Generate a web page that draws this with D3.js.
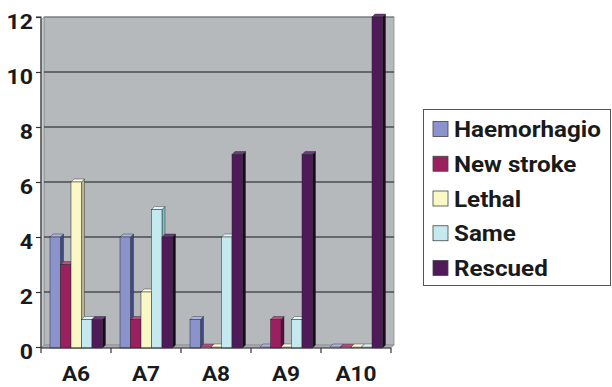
<!DOCTYPE html>
<html>
<head>
<meta charset="utf-8">
<script src="https://cdn.jsdelivr.net/npm/d3@7"></script>
<style>
  html, body { margin: 0; padding: 0; background: #fff; }
  svg { display: block; }
  text { font-family: Roboto, "Liberation Sans", Arial, sans-serif; font-weight: 700; fill: #1a1a1a; }
</style>
</head>
<body>
<svg id="chart" width="612" height="387"></svg>
<script>
const categories = ["A6", "A7", "A8", "A9", "A10"];
const seriesNames = ["Haemorhagio", "New stroke", "Lethal", "Same", "Rescued"];
const haemorhagio = [4, 4, 1, 0, 0];
const newStroke   = [3, 1, 0, 1, 0];
const lethal      = [6, 2, 0, 0, 0];
const same        = [1, 5, 4, 1, 0];
const rescued     = [1, 4, 7, 7, 12];
const yTicks = [0, 2, 4, 6, 8, 10, 12];

const seriesValues = [haemorhagio, newStroke, lethal, same, rescued];
const frontColors = ["#8a93cb", "#9a2060", "#fbf8c8", "#c4e9ef", "#4e1a5a"];
const sideColors  = ["#3a4a8c", "#5c0f38", "#b9b58c", "#7fbcc2", "#1a0820"];
const topColors   = ["#aeb4e0", "#b5507f", "#fdfbe0", "#e2f6f8", "#6e3a7a"];

const FONT = "Roboto, 'Liberation Sans', Arial, sans-serif";
const svg = d3.select("#chart");
const depth = 3;

const x = d3.scaleBand().domain(categories).range([41, 391]);
const xs = d3.scaleBand().domain(seriesNames).range([9, 61.5]);
const y = d3.scaleLinear().domain([0, 12]).range([347, 17]);

// back wall
svg.append("rect")
  .attr("x", 41 + depth).attr("y", y(12))
  .attr("width", 391 - 41).attr("height", y(0) - y(12) - depth + 1)
  .attr("fill", "#b5b9bc").attr("stroke", "#8a8d90").attr("stroke-width", 0.8);
// left side wall
svg.append("path")
  .attr("d", `M41,${y(12)+depth} L${41+depth},${y(12)} L${41+depth},${y(0)-depth+1} L41,${y(0)+1} Z`)
  .attr("fill", "#c9cccf").attr("stroke", "#8a8d90").attr("stroke-width", 0.6);
// floor
svg.append("path")
  .attr("d", `M41,${y(0)+1} L${41+depth},${y(0)-depth+1} L${391+depth},${y(0)-depth+1} L391,${y(0)+1} Z`)
  .attr("fill", "#a7abae").attr("stroke", "#8a8d90").attr("stroke-width", 0.6);

// gridlines on the wall
svg.append("g").selectAll("line")
  .data(yTicks.filter(t => t > 0 && t < 12))
  .join("line")
  .attr("x1", 41 + depth).attr("x2", 391 + depth)
  .attr("y1", d => y(d)).attr("y2", d => y(d))
  .attr("stroke", "#4a4d50").attr("stroke-width", 1.3);
svg.append("line")
  .attr("x1", 41 + depth).attr("x2", 391 + depth)
  .attr("y1", y(12)).attr("y2", y(12))
  .attr("stroke", "#6a6d70").attr("stroke-width", 1);

// bars
const bars = [];
categories.forEach((c, i) => {
  seriesNames.forEach((s, j) => {
    bars.push({ c, s, j, v: seriesValues[j][i] });
  });
});
const bg = svg.append("g");
bars.forEach(b => {
  const x0 = x(b.c) + xs(b.s);
  const w = xs.bandwidth();
  const yt = y(b.v);
  const yb = y(0) + 1;
  const g = bg.append("g");
  g.append("path")
    .attr("d", `M${x0+w},${yt} L${x0+w+depth},${yt-depth} L${x0+w+depth},${yb-depth} L${x0+w},${yb} Z`)
    .attr("fill", sideColors[b.j]).attr("stroke", "#222").attr("stroke-width", 0.4);
  g.append("path")
    .attr("d", `M${x0},${yt} L${x0+depth},${yt-depth} L${x0+w+depth},${yt-depth} L${x0+w},${yt} Z`)
    .attr("fill", topColors[b.j]).attr("stroke", "#222").attr("stroke-width", 0.4);
  if (b.v > 0) {
    g.append("rect")
      .attr("x", x0).attr("y", yt).attr("width", w).attr("height", yb - yt)
      .attr("fill", frontColors[b.j]).attr("stroke", "#2a2a2a").attr("stroke-width", 0.5);
  }
});

// axes
const yAxis = d3.axisLeft(y).tickValues(yTicks).tickSize(5).tickFormat(d3.format("d"));
const gy = svg.append("g").attr("transform", "translate(41,0)").call(yAxis);
gy.select(".domain").attr("stroke", "#333").attr("stroke-width", 1.2).attr("d", `M-5,${y(12)}H0V${y(0)+1}`);
gy.selectAll(".tick line").attr("stroke", "#333").attr("stroke-width", 1.2);
gy.selectAll(".tick text")
  .attr("x", 0).attr("dy", 0)
  .attr("transform", "translate(-8,11) scale(1.1,1)")
  .attr("text-anchor", "end")
  .style("font-size", "21px").style("font-family", FONT).style("font-weight", "700").attr("fill", "#1a1a1a");

const xAxis = d3.axisBottom(x).tickSize(0).tickFormat(d => d);
const gx = svg.append("g").attr("transform", `translate(0,${y(0)+1})`).call(xAxis);
gx.select(".domain").attr("stroke", "#333").attr("stroke-width", 1.2).attr("d", "M41,0H391");
gx.selectAll(".tick text")
  .attr("y", 0).attr("dy", 0)
  .attr("transform", "translate(0,33) scale(1.08,1)")
  .style("font-size", "21px").style("font-family", FONT).style("font-weight", "700").attr("fill", "#1a1a1a");
gx.append("g").selectAll("line")
  .data(categories.concat(["end"]))
  .join("line")
  .attr("x1", (d, i) => i < categories.length ? x(d) : x(categories[categories.length-1]) + x.bandwidth())
  .attr("x2", (d, i) => i < categories.length ? x(d) : x(categories[categories.length-1]) + x.bandwidth())
  .attr("y1", 0).attr("y2", 5)
  .attr("stroke", "#333").attr("stroke-width", 1.2);

// legend
const lg = svg.append("g");
lg.append("rect").attr("x", 423.5).attr("y", 109.5).attr("width", 187).attr("height", 176)
  .attr("fill", "#fff").attr("stroke", "#555").attr("stroke-width", 1);
const rowY = d3.scalePoint().domain(seriesNames).range([129, 268]);
seriesNames.forEach((s, j) => {
  const cy = rowY(s);
  lg.append("rect").attr("x", 433).attr("y", cy - 7.5).attr("width", 15).attr("height", 15)
    .attr("fill", frontColors[j]).attr("stroke", "#444").attr("stroke-width", 0.8);
  lg.append("text")
    .attr("transform", `translate(454,${cy + 8}) scale(1.1,1)`)
    .style("font-size", "22px").style("font-family", FONT).style("font-weight", "700")
    .text(s);
});
</script>
</body>
</html>
